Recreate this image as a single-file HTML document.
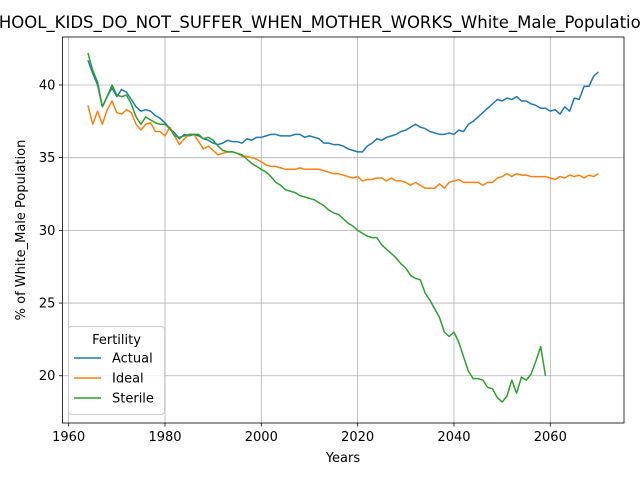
<!DOCTYPE html>
<html><head><meta charset="utf-8"><style>body{margin:0;background:#fff}svg{display:block;font-family:"DejaVu Sans","Liberation Sans",sans-serif}</style></head>
<body>
<svg id="chart" width="640" height="480"></svg>
<script>
const startYear = 1964;
const actual = [41.7,40.8,40.0,38.5,39.2,39.8,39.2,39.7,39.5,39.0,38.5,38.2,38.3,38.2,37.9,37.7,37.4,37.0,36.7,36.3,36.6,36.5,36.6,36.5,36.3,36.2,36.0,35.9,36.0,36.2,36.1,36.1,36.0,36.3,36.2,36.4,36.4,36.5,36.6,36.6,36.5,36.5,36.5,36.6,36.6,36.4,36.5,36.4,36.3,36.0,36.0,35.9,35.9,35.8,35.6,35.5,35.4,35.4,35.8,36.0,36.3,36.2,36.4,36.5,36.6,36.8,36.9,37.1,37.3,37.1,37.0,36.8,36.7,36.6,36.6,36.7,36.6,36.9,36.8,37.3,37.5,37.8,38.1,38.4,38.7,39.0,38.9,39.1,39.0,39.2,38.9,38.9,38.7,38.6,38.4,38.4,38.2,38.3,38.0,38.5,38.2,39.1,39.0,39.9,39.9,40.6,40.9];
const ideal = [38.6,37.3,38.2,37.3,38.3,38.9,38.1,38.0,38.3,38.1,37.3,36.9,37.3,37.4,36.8,36.8,36.5,37.1,36.5,35.9,36.3,36.6,36.6,36.1,35.6,35.8,35.5,35.2,35.3,35.4,35.4,35.3,35.1,35.1,35.0,34.9,34.7,34.5,34.4,34.4,34.3,34.2,34.2,34.2,34.3,34.2,34.2,34.2,34.2,34.1,34.0,33.9,33.9,33.8,33.7,33.6,33.7,33.4,33.5,33.5,33.6,33.6,33.4,33.6,33.4,33.4,33.3,33.1,33.3,33.1,32.9,32.9,32.9,33.2,32.9,33.3,33.4,33.5,33.3,33.3,33.3,33.3,33.1,33.3,33.3,33.6,33.7,33.9,33.7,33.9,33.8,33.8,33.7,33.7,33.7,33.7,33.6,33.5,33.7,33.6,33.8,33.7,33.8,33.6,33.8,33.7,33.9];
const sterile = [42.2,41.0,40.2,38.5,39.2,40.0,39.3,39.2,39.3,38.7,37.8,37.3,37.8,37.6,37.4,37.3,37.3,37.0,36.5,36.4,36.5,36.6,36.6,36.6,36.3,36.4,36.2,35.8,35.5,35.4,35.4,35.3,35.2,34.9,34.6,34.4,34.2,34.0,33.7,33.3,33.1,32.8,32.7,32.6,32.4,32.3,32.2,32.1,31.9,31.7,31.4,31.2,31.1,30.8,30.5,30.3,30.0,29.8,29.6,29.5,29.5,29.0,28.7,28.4,28.1,27.7,27.4,26.9,26.7,26.6,25.7,25.2,24.6,24.0,23.0,22.7,23.0,22.3,21.3,20.3,19.8,19.8,19.7,19.2,19.1,18.5,18.2,18.6,19.7,18.8,19.9,19.7,20.1,21.0,22.0,20.0];
const xTicks = [1960,1980,2000,2020,2040,2060];
const yTicks = [20,25,30,35,40];
const seriesNames = ["Actual","Ideal","Sterile"];
const colors = ["#1f77b4","#ff7f0e","#2ca02c"];

const L=62.4,R=624,T=37,B=423;
const x0=1958.7,x1=2075.3,y0=16.75,y1=43.3;
const sx=v=>L+(v-x0)/(x1-x0)*(R-L);
const sy=v=>B-(v-y0)/(y1-y0)*(B-T);
const svg=document.getElementById('chart');
const NS='http://www.w3.org/2000/svg';
function mk(tag,attrs,parent){const e=document.createElementNS(NS,tag);for(const k in attrs)e.setAttribute(k,attrs[k]);(parent||svg).appendChild(e);return e;}

xTicks.forEach(t=>{
  const g=mk('line',{x1:sx(t),x2:sx(t),y1:T,y2:B,stroke:'#b0b0b0','stroke-width':0.8});
  
  
  const tk=mk('line',{x1:sx(t),x2:sx(t),y1:B,y2:B+3.5,stroke:'#000','stroke-width':0.8});
  
  
  const tx=mk('text',{x:sx(t),y:B+18,'text-anchor':'middle','font-size':13});
  tx.textContent=t;
  
  
});
yTicks.forEach(t=>{
  const g=mk('line',{x1:L,x2:R,y1:sy(t),y2:sy(t),stroke:'#b0b0b0','stroke-width':0.8});
  
  
  const tk=mk('line',{x1:L-3.5,x2:L,y1:sy(t),y2:sy(t),stroke:'#000','stroke-width':0.8});
  
  
  const tx=mk('text',{x:L-7,y:sy(t)+4.5,'text-anchor':'end','font-size':13});
  tx.textContent=t;
  
  
});
[actual,ideal,sterile].forEach((arr,i)=>{
  const pts=arr.map((v,j)=>sx(startYear+j).toFixed(2)+','+sy(v).toFixed(2)).join(' ');
  const p=mk('polyline',{points:pts,fill:'none',stroke:colors[i],'stroke-width':1.5,'stroke-linejoin':'round'});
  
  
});
const frame=mk('rect',{x:L,y:T,width:R-L,height:B-T,fill:'none',stroke:'#000','stroke-width':0.8});



const title=mk('text',{x:314,y:28,'text-anchor':'middle','font-size':16.5});
title.textContent='SCHOOL_KIDS_DO_NOT_SUFFER_WHEN_MOTHER_WORKS_White_Male_Population';


const xl=mk('text',{x:343,y:462,'text-anchor':'middle','font-size':13});
xl.textContent='Years';


const yl=mk('text',{x:0,y:0,'text-anchor':'middle','font-size':13,transform:'translate(25,230) rotate(-90)'});
yl.textContent='% of White_Male Population';



const lg=mk('g',{});


mk('rect',{x:68.5,y:326.5,width:96,height:88,rx:3,fill:'#fff','fill-opacity':0.8,stroke:'#ccc'},lg);
const lt=mk('text',{x:116.5,y:344,'text-anchor':'middle','font-size':13},lg);
lt.textContent='Fertility';
seriesNames.forEach((n,i)=>{
  const y=358+i*20;
  const ln=mk('line',{x1:74,x2:101,y1:y,y2:y,stroke:colors[i],'stroke-width':1.5},lg);
  
  
  const t=mk('text',{x:112,y:y+4.5,'font-size':13},lg);
  t.textContent=n;
  
  
});
</script>
</body></html>
